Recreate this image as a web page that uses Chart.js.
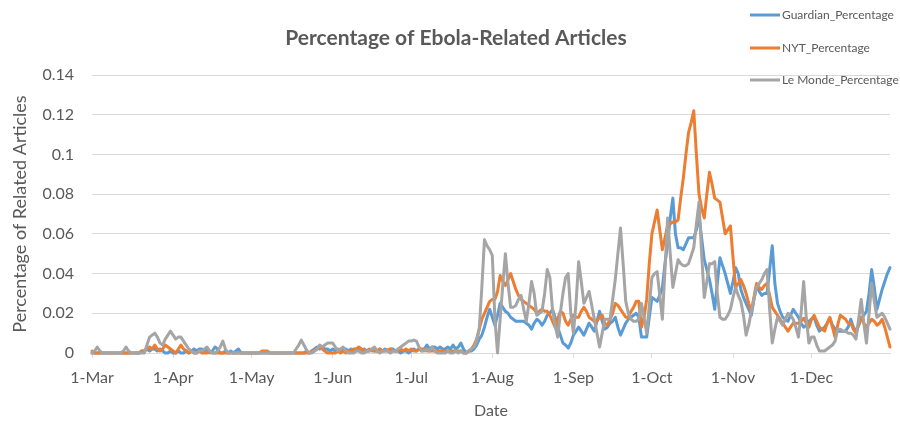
<!DOCTYPE html>
<html>
<head>
<meta charset="utf-8">
<title>Percentage of Ebola-Related Articles</title>
<script src="https://cdn.jsdelivr.net/npm/chart.js@4/dist/chart.umd.min.js"></script>
<style>
  html, body { margin: 0; padding: 0; background: #ffffff; }
  #wrap { width: 900px; height: 429px; }
</style>
</head>
<body>
<div id="wrap"><canvas id="chart" width="900" height="429"></canvas></div>
<script>
// Calendar: one category per day, 1 March to 31 December
const months = ['Mar', 'Apr', 'May', 'Jun', 'Jul', 'Aug', 'Sep', 'Oct', 'Nov', 'Dec'];
const monthLengths = [31, 30, 31, 30, 31, 31, 30, 31, 30, 31];

// Labelled ticks on each axis
const xTickLabels = ['1-Mar', '1-Apr', '1-May', '1-Jun', '1-Jul', '1-Aug', '1-Sep', '1-Oct', '1-Nov', '1-Dec'];
const yTicks = [0, 0.02, 0.04, 0.06, 0.08, 0.1, 0.12, 0.14];

const seriesNames = ['Guardian_Percentage', 'NYT_Percentage', 'Le Monde_Percentage'];

// Daily share of articles mentioning Ebola
const guardian = [
  0,0,0,0,0,0,0,0,0,0,
  0,0,0,0,0,0,0,0,0,0.001,
  0.001,0.002,0.001,0.002,0.002,0.001,0.002,0.001,0,0,
  0.001,0,0,0.001,0,0,0.001,0,0.001,0.002,
  0.001,0.002,0.002,0.001,0.002,0,0.001,0.003,0.002,0,
  0,0.001,0,0.001,0,0.001,0.002,0,0,0,
  0,0,0,0,0,0,0,0,0,0,
  0,0,0,0,0,0,0,0,0,0,
  0,0,0.001,0,0.001,0.002,0.003,0.002,0.003,0.002,
  0.002,0.001,0.002,0.001,0.002,0.001,0.002,0.002,0.001,0.002,
  0.001,0.002,0.002,0.001,0.002,0.001,0.001,0.002,0.001,0.001,
  0.002,0.001,0.002,0.001,0.002,0.002,0.001,0.001,0,0.001,
  0.001,0,0.001,0.002,0.001,0.002,0.001,0.002,0.004,0.002,
  0.003,0.003,0.002,0.003,0.002,0.002,0.003,0.002,0.004,0.002,
  0.003,0.005,0.002,0,0.001,0.001,0.002,0.004,0.007,0.009,
  0.013,0.018,0.022,0.018,0.014,0.019,0.025,0.023,0.021,0.020,
  0.018,0.017,0.016,0.016,0.016,0.016,0.015,0.014,0.012,0.015,
  0.017,0.016,0.014,0.016,0.019,0.020,0.022,0.018,0.013,0.009,
  0.005,0.004,0.0025,0.005,0.009,0.011,0.013,0.011,0.009,0.012,
  0.015,0.013,0.011,0.016,0.021,0.016,0.012,0.013,0.015,0.016,
  0.018,0.013,0.009,0.012,0.015,0.017,0.018,0.019,0.020,0.018,
  0.008,0.008,0.008,0.018,0.028,0.027,0.026,0.029,0.033,0.045,
  0.055,0.068,0.078,0.060,0.053,0.053,0.052,0.055,0.058,0.058,
  0.058,0.062,0.069,0.058,0.047,0.042,0.037,0.030,0.022,0.035,
  0.048,0.044,0.040,0.035,0.030,0.036,0.043,0.040,0.032,0.028,
  0.025,0.022,0.019,0.027,0.034,0.031,0.029,0.030,0.030,0.042,
  0.054,0.035,0.025,0.021,0.018,0.017,0.016,0.019,0.022,0.020,
  0.018,0.015,0.013,0.014,0.016,0.017,0.018,0.014,0.011,0.012,
  0.013,0.015,0.0175,0.014,0.012,0.011,0.011,0.011,0.011,0.013,
  0.017,0.013,0.011,0.014,0.017,0.019,0.021,0.030,0.042,0.033,
  0.022,0.027,0.032,0.036,0.040,0.043
];

const nyt = [
  0.001,0,0,0,0,0,0,0,0,0,
  0,0,0,0,0,0,0,0,0,0.001,
  0.001,0.002,0.003,0.002,0.004,0.002,0.001,0.002,0.004,0.003,
  0.002,0.001,0,0.002,0.004,0.002,0.001,0,0.001,0,
  0,0.001,0,0,0,0.001,0,0,0,0,
  0,0,0,0,0,0,0,0,0,0,
  0,0,0,0,0,0.001,0.001,0.001,0,0,
  0,0,0,0,0,0,0,0,0,0,
  0,0,0,0,0.001,0.001,0.002,0.003,0.002,0.001,
  0,0,0,0,0.001,0,0.001,0,0.001,0.001,
  0.002,0.002,0.003,0.002,0.001,0.001,0.002,0.001,0.001,0.001,
  0.002,0.001,0.001,0.0015,0.002,0.001,0.001,0.001,0.002,0.001,
  0.002,0.001,0.002,0.001,0.001,0.002,0.002,0.002,0.001,0.001,
  0.001,0.001,0.001,0.001,0.001,0.001,0.001,0.001,0.001,0.001,
  0.001,0.001,0,0,0.001,0.002,0.004,0.007,0.012,0.017,
  0.020,0.023,0.026,0.027,0.027,0.031,0.039,0.036,0.034,0.037,
  0.040,0.036,0.032,0.029,0.027,0.026,0.025,0.024,0.023,0.022,
  0.020,0.021,0.022,0.021,0.021,0.019,0.016,0.013,0.017,0.021,
  0.020,0.016,0.014,0.017,0.019,0.018,0.018,0.021,0.023,0.021,
  0.018,0.017,0.016,0.016,0.018,0.019,0.015,0.014,0.017,0.020,
  0.025,0.024,0.022,0.020,0.018,0.018,0.021,0.023,0.026,0.026,
  0.013,0.018,0.027,0.045,0.060,0.066,0.072,0.062,0.052,0.058,
  0.064,0.065,0.066,0.066,0.067,0.078,0.088,0.100,0.111,0.116,
  0.122,0.100,0.080,0.073,0.068,0.080,0.091,0.085,0.078,0.077,
  0.076,0.068,0.060,0.062,0.064,0.048,0.033,0.035,0.037,0.034,
  0.030,0.025,0.021,0.028,0.035,0.033,0.032,0.034,0.035,0.029,
  0.023,0.021,0.019,0.017,0.015,0.013,0.011,0.013,0.015,0.015,
  0.015,0.016,0.0175,0.015,0.013,0.017,0.019,0.016,0.013,0.012,
  0.011,0.015,0.018,0.013,0.008,0.014,0.019,0.018,0.017,0.015,
  0.015,0.012,0.010,0.014,0.018,0.015,0.013,0.015,0.017,0.016,
  0.014,0.015,0.017,0.013,0.008,0.003
];

const leMonde = [
  0,0.001,0.003,0.001,0,0,0,0,0,0,
  0,0,0.001,0.003,0.001,0,0,0,0,0,
  0,0.004,0.008,0.009,0.010,0.008,0.005,0.004,0.007,0.009,
  0.011,0.009,0.007,0.008,0.008,0.006,0.004,0.002,0.001,0,
  0,0.001,0.001,0.002,0.003,0.001,0,0,0.001,0.003,
  0.006,0.002,0,0,0,0,0,0,0,0,
  0,0,0,0,0,0,0,0,0,0,
  0,0,0,0,0,0,0,0,0.002,0.004,
  0.0065,0.004,0.0015,0,0,0.001,0.002,0.004,0.003,0.004,
  0.005,0.005,0.005,0.003,0.001,0.002,0.003,0.001,0,0,
  0,0.001,0.001,0,0,0.001,0.001,0.002,0.003,0.001,
  0,0.001,0.001,0.001,0,0.001,0.001,0.002,0.003,0.004,
  0.005,0.006,0.006,0.0065,0.006,0.003,0.001,0.001,0.002,0.001,
  0.003,0.001,0,0,0,0,0.001,0,0,0.001,
  0,0.001,0,0,0.001,0.002,0.003,0.006,0.012,0.033,
  0.057,0.054,0.052,0.049,0.017,0,0.017,0.034,0.050,0.035,
  0.023,0.023,0.024,0.027,0.029,0.022,0.016,0.025,0.036,0.030,
  0.019,0.020,0.021,0.030,0.042,0.038,0.022,0.014,0.008,0.020,
  0.030,0.038,0.040,0.020,0.010,0.025,0.046,0.036,0.025,0.028,
  0.031,0.024,0.017,0.010,0.003,0.010,0.017,0.017,0.017,0.027,
  0.037,0.050,0.063,0.045,0.026,0.020,0.017,0.016,0.016,0.017,
  0.025,0.018,0.010,0.024,0.038,0.040,0.041,0.029,0.017,0.042,
  0.068,0.050,0.033,0.040,0.047,0.045,0.044,0.044,0.045,0.049,
  0.053,0.065,0.076,0.050,0.028,0.036,0.045,0.045,0.046,0.030,
  0.018,0.017,0.017,0.019,0.022,0.028,0.033,0.029,0.026,0.019,
  0.009,0.014,0.021,0.027,0.033,0.035,0.037,0.040,0.042,0.022,
  0.005,0.012,0.018,0.016,0.014,0.017,0.020,0.019,0.017,0.013,
  0.008,0.020,0.036,0.018,0.005,0.008,0.008,0.004,0.001,0.001,
  0.001,0.002,0.003,0.004,0.006,0.012,0.012,0.011,0.011,0.010,
  0.010,0.009,0.007,0.017,0.027,0.015,0.005,0.020,0.035,0.026,
  0.018,0.019,0.020,0.018,0.015,0.012
];

const dayLabels = [];
months.forEach((m, i) => {
  for (let d = 1; d <= monthLengths[i]; d++) dayLabels.push(d + '-' + m);
});

const TEXT = '#595959';
const GRID = '#D9D9D9';
const FONT = 'Lato, "Open Sans", "DejaVu Sans", sans-serif';
const COLORS = ['#5B9BD5', '#ED7D31', '#A5A5A5'];
const TITLE = 'Percentage of Ebola-Related Articles';

// Chart title plus the stacked legend in the top-right corner
const headerPlugin = {
  id: 'headerAndLegend',
  afterDraw(chart) {
    const ctx = chart.ctx;
    ctx.save();
    ctx.fillStyle = TEXT;
    ctx.font = 'bold 21px ' + FONT;
    ctx.textAlign = 'center';
    ctx.textBaseline = 'middle';
    ctx.fillText(TITLE, 456, 38);

    const rowY = [15, 48, 80];
    chart.data.datasets.forEach((ds, i) => {
      const y = rowY[i];
      ctx.strokeStyle = ds.borderColor;
      ctx.lineWidth = 3;
      ctx.lineCap = 'butt';
      ctx.beginPath();
      ctx.moveTo(750, y);
      ctx.lineTo(780, y);
      ctx.stroke();
      ctx.fillStyle = TEXT;
      ctx.font = '12px ' + FONT;
      ctx.textAlign = 'left';
      ctx.textBaseline = 'middle';
      ctx.fillText(ds.label, 782, y);
    });
    ctx.restore();
  }
};

const seriesData = [guardian, nyt, leMonde];

new Chart(document.getElementById('chart'), {
  type: 'line',
  data: {
    labels: dayLabels,
    datasets: seriesData.map((values, i) => ({
      label: seriesNames[i],
      data: values,
      borderColor: COLORS[i],
      backgroundColor: COLORS[i],
      borderWidth: 3,
      pointRadius: 0,
      tension: 0,
      borderJoinStyle: 'round',
      borderCapStyle: 'round',
      fill: false,
      clip: 4,
      order: 2 - i
    }))
  },
  options: {
    responsive: false,
    animation: false,
    devicePixelRatio: 1,
    layout: { padding: { top: 75, right: 3, left: 0, bottom: 0 } },
    plugins: {
      legend: { display: false },
      title: { display: false },
      tooltip: { enabled: false }
    },
    scales: {
      x: {
        type: 'category',
        grid: {
          display: true,
          drawOnChartArea: false,
          drawTicks: true,
          tickLength: 5,
          color: (c) => (c.tick && xTickLabels.includes(c.tick.label)) ? GRID : 'rgba(0,0,0,0)'
        },
        border: { display: true, color: GRID, width: 1 },
        ticks: {
          autoSkip: false,
          maxRotation: 0,
          minRotation: 0,
          padding: 10,
          color: TEXT,
          font: { family: FONT, size: 16 },
          callback(value) {
            const l = this.getLabelForValue(value);
            return xTickLabels.includes(l) ? l : '';
          }
        },
        title: {
          display: true,
          text: 'Date',
          color: TEXT,
          font: { family: FONT, size: 16 },
          padding: { top: 0, bottom: 9 }
        },
        afterFit(scale) { scale.height = 76; }
      },
      y: {
        min: 0,
        max: 0.14,
        afterBuildTicks(scale) { scale.ticks = yTicks.map(v => ({ value: v })); },
        grid: { color: GRID, lineWidth: 1, drawTicks: false },
        border: { display: false },
        ticks: {
          padding: 18,
          color: TEXT,
          font: { family: FONT, size: 16 },
          callback: (v) => String(+Number(v).toFixed(2))
        },
        title: {
          display: true,
          text: 'Percentage of Related Articles',
          color: TEXT,
          font: { family: FONT, size: 18 },
          padding: { top: 9, bottom: 0 }
        },
        afterFit(scale) { scale.width = 92; }
      }
    }
  },
  plugins: [headerPlugin]
});
</script>
</body>
</html>
